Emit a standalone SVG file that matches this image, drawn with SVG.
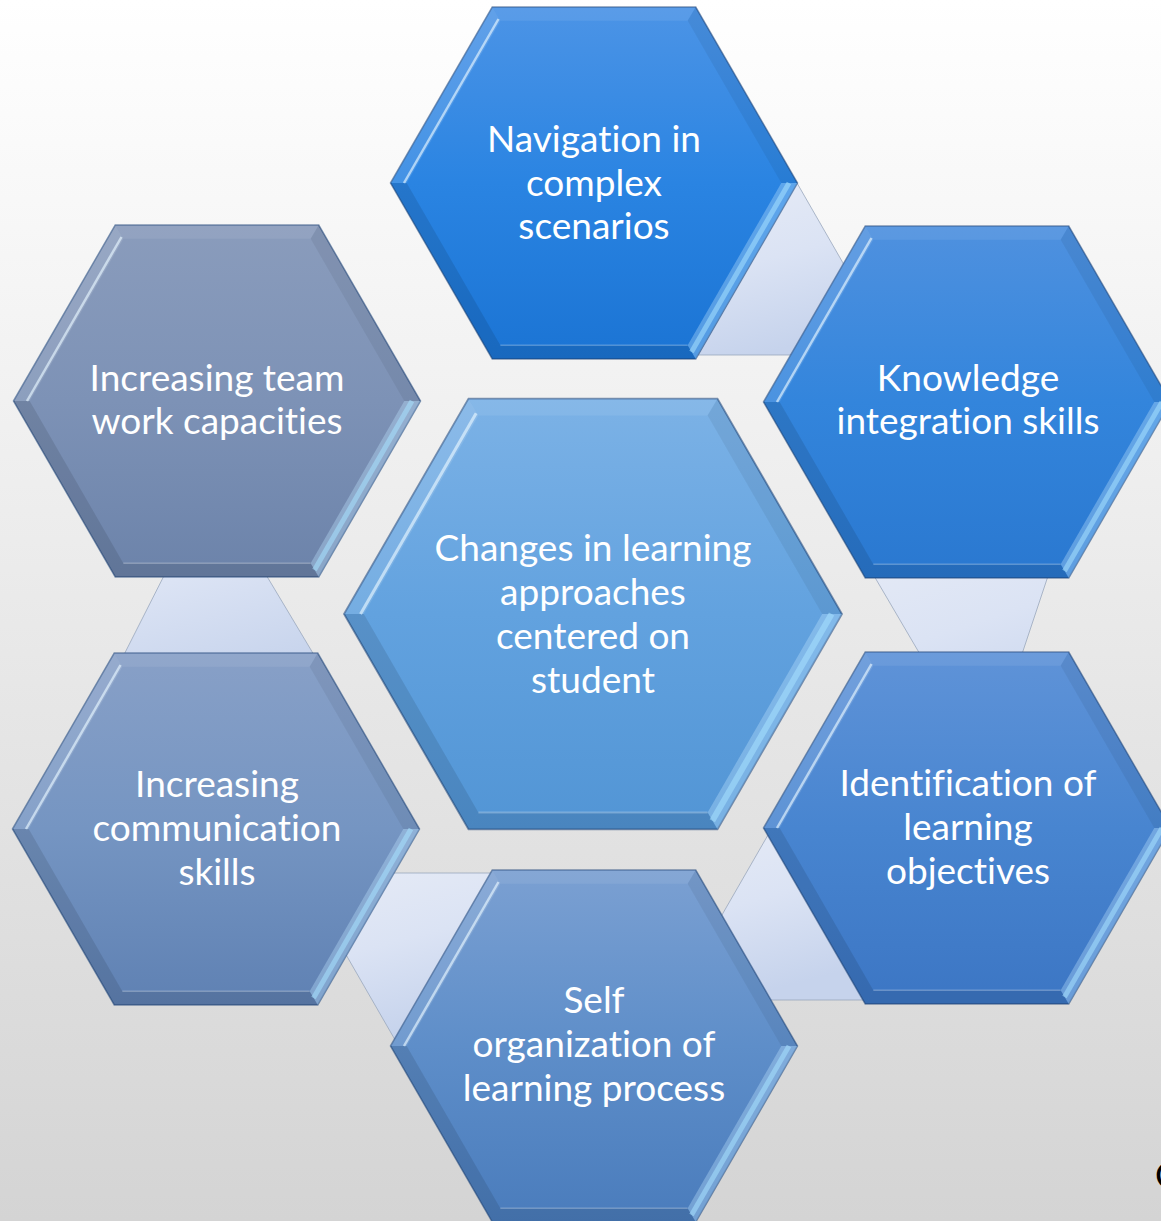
<svg xmlns="http://www.w3.org/2000/svg" xmlns:xlink="http://www.w3.org/1999/xlink" width="1161" height="1221" viewBox="0 0 1161 1221">
<defs>
<style>
.lbl{font-family:Lato,"Open Sans","Liberation Sans",sans-serif;font-size:37px;fill:#ffffff;text-anchor:middle;font-variant-ligatures:none;font-feature-settings:"liga" 0}
.edge{stroke:#1e4478;stroke-opacity:0.55;stroke-width:1.5;stroke-linejoin:miter}
.tri{fill:url(#gTri);stroke:#9aa7bd;stroke-width:1;stroke-opacity:0.8}
</style>
<linearGradient id="gBg" x1="0" y1="0" x2="0" y2="1">
<stop offset="0" stop-color="#ffffff"/>
<stop offset="0.07" stop-color="#fcfcfc"/>
<stop offset="1" stop-color="#d4d4d4"/>
</linearGradient>
<linearGradient id="gTri" x1="0" y1="0" x2="0.3" y2="1">
<stop offset="0" stop-color="#e6ebf6"/>
<stop offset="0.5" stop-color="#dbe3f4"/>
<stop offset="1" stop-color="#c6d3ec"/>
</linearGradient>
<linearGradient id="gNav" x1="0" y1="0" x2="0" y2="1">
<stop offset="0" stop-color="#4c94e6"/><stop offset="0.5" stop-color="#2a84e2"/><stop offset="1" stop-color="#1b74d4"/>
</linearGradient>
<linearGradient id="gKnow" x1="0" y1="0" x2="0" y2="1">
<stop offset="0" stop-color="#4f91df"/><stop offset="0.5" stop-color="#3385dc"/><stop offset="1" stop-color="#2a78d0"/>
</linearGradient>
<linearGradient id="gIdent" x1="0" y1="0" x2="0" y2="1">
<stop offset="0" stop-color="#5f93d8"/><stop offset="0.5" stop-color="#4885d0"/><stop offset="1" stop-color="#3c76c4"/>
</linearGradient>
<linearGradient id="gSelf" x1="0" y1="0" x2="0" y2="1">
<stop offset="0" stop-color="#7ba0d2"/><stop offset="0.5" stop-color="#5e8ec9"/><stop offset="1" stop-color="#4a7cbc"/>
</linearGradient>
<linearGradient id="gComm" x1="0" y1="0" x2="0" y2="1">
<stop offset="0" stop-color="#88a0c7"/><stop offset="0.5" stop-color="#7595c2"/><stop offset="1" stop-color="#5f81b3"/>
</linearGradient>
<linearGradient id="gTeam" x1="0" y1="0" x2="0" y2="1">
<stop offset="0" stop-color="#8a9cbc"/><stop offset="0.5" stop-color="#7d92b6"/><stop offset="1" stop-color="#6c83aa"/>
</linearGradient>
<linearGradient id="gCenter" x1="0" y1="0" x2="0" y2="1">
<stop offset="0" stop-color="#7cb2e6"/><stop offset="0.5" stop-color="#62a2df"/><stop offset="1" stop-color="#5295d5"/>
</linearGradient>
<path id="hex" d="M-203.5,0 L-101.75,-176 L101.75,-176 L203.5,0 L101.75,176 L-101.75,176 Z"/>
<g id="bevel">
<polygon points="-101.75,-176 101.75,-176 93.65,-162.2 -93.65,-162.2" fill="#ffffff" fill-opacity="0.08"/>
<polygon points="101.75,-176 203.5,0 187.3,0 93.65,-162.2" fill="#000000" fill-opacity="0.06"/>
<polygon points="203.5,0 101.75,176 93.65,162.2 187.3,0" fill="#bfe6ff" fill-opacity="0.35"/>
<polygon points="101.75,176 -101.75,176 -93.65,162.2 93.65,162.2" fill="#000000" fill-opacity="0.1"/>
<polygon points="-101.75,176 -203.5,0 -187.3,0 -93.65,162.2" fill="#000000" fill-opacity="0.1"/>
<polygon points="-203.5,0 -101.75,-176 -93.65,-162.2 -187.3,0" fill="#ffffff" fill-opacity="0.12"/>
<line x1="-190" y1="0" x2="-95.5" y2="-164" stroke="#e6f6ff" stroke-opacity="0.65" stroke-width="2.5"/>
<line x1="195" y1="0" x2="97.5" y2="169" stroke="#a8e2ff" stroke-opacity="0.55" stroke-width="5"/>
<line x1="-93.65" y1="162.2" x2="93.65" y2="162.2" stroke="#ffffff" stroke-opacity="0.25" stroke-width="1.5"/>
</g>
</defs>

<rect x="0" y="0" width="1161" height="1221" fill="url(#gBg)"/>

<g id="connectors">
<polygon class="tri" points="797,183 698,355 896,355"/>
<polygon class="tri" points="853,540 1060,540 985,765"/>
<polygon class="tri" points="772,828 673,1000 871,1000"/>
<polygon class="tri" points="299,873 497,873 398,1045"/>
<polygon class="tri" points="211,483 101,700 341,700"/>
</g>

<g id="node-navigation">
<g transform="translate(594,183)"><use xlink:href="#hex" href="#hex" class="edge" fill="url(#gNav)"/><use xlink:href="#bevel" href="#bevel"/></g>
<text class="lbl"><tspan x="594" y="152">Navigation in</tspan><tspan x="594" y="195.5">complex</tspan><tspan x="594" y="239">scenarios</tspan></text>
</g>

<g id="node-knowledge">
<g transform="translate(967,402)"><use xlink:href="#hex" href="#hex" class="edge" fill="url(#gKnow)"/><use xlink:href="#bevel" href="#bevel"/></g>
<text class="lbl"><tspan x="968" y="391">Knowledge</tspan><tspan x="968" y="434">integration skills</tspan></text>
</g>

<g id="node-identification">
<g transform="translate(967,828)"><use xlink:href="#hex" href="#hex" class="edge" fill="url(#gIdent)"/><use xlink:href="#bevel" href="#bevel"/></g>
<text class="lbl"><tspan x="968" y="796">Identification of</tspan><tspan x="968" y="840">learning</tspan><tspan x="968" y="884">objectives</tspan></text>
</g>

<g id="node-selforg">
<g transform="translate(594,1046)"><use xlink:href="#hex" href="#hex" class="edge" fill="url(#gSelf)"/><use xlink:href="#bevel" href="#bevel"/></g>
<text class="lbl"><tspan x="594" y="1013">Self</tspan><tspan x="594" y="1057">organization of</tspan><tspan x="594" y="1101">learning process</tspan></text>
</g>

<g id="node-communication">
<g transform="translate(216,829)"><use xlink:href="#hex" href="#hex" class="edge" fill="url(#gComm)"/><use xlink:href="#bevel" href="#bevel"/></g>
<text class="lbl"><tspan x="217" y="797">Increasing</tspan><tspan x="217" y="841">communication</tspan><tspan x="217" y="885">skills</tspan></text>
</g>

<g id="node-teamwork">
<g transform="translate(217,401)"><use xlink:href="#hex" href="#hex" class="edge" fill="url(#gTeam)"/><use xlink:href="#bevel" href="#bevel"/></g>
<text class="lbl"><tspan x="217" y="391">Increasing team</tspan><tspan x="217" y="434">work capacities</tspan></text>
</g>

<g id="node-center">
<g transform="translate(593,614) scale(1.2236)"><use xlink:href="#hex" href="#hex" class="edge" fill="url(#gCenter)"/><use xlink:href="#bevel" href="#bevel"/></g>
<text class="lbl"><tspan x="593" y="561">Changes in learning</tspan><tspan x="593" y="605">approaches</tspan><tspan x="593" y="649">centered on</tspan><tspan x="593" y="693">student</tspan></text>
</g>

<text x="1155" y="1188" font-family="Lato,'Liberation Sans',sans-serif" font-size="36" fill="#000000">C</text>
</svg>
